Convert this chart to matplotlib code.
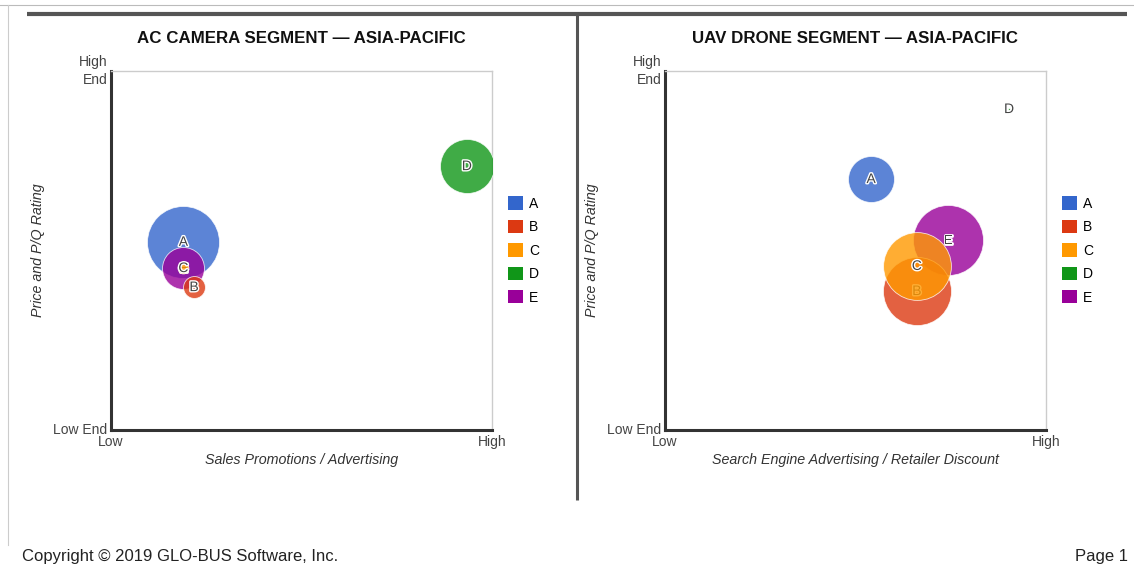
import numpy as np
import matplotlib
matplotlib.use('Agg')
import matplotlib.pyplot as plt
import matplotlib.patheffects as pe
from matplotlib.lines import Line2D
from matplotlib.patches import Patch

plt.rcParams['font.family'] = ['Liberation Sans', 'DejaVu Sans']

companies = ['A', 'B', 'C', 'D', 'E']
colors = ['#3366CC', '#DC3912', '#FF9900', '#109618', '#990099']

# AC camera segment (x = promotions/advertising, y = price and P/Q rating, share)
cam_x = [0.19, 0.218, 0.19, 0.934, 0.19]
cam_y = [0.524, 0.398, 0.451, 0.735, 0.451]
cam_share = [13.0, 1.2, 0.3, 7.3, 4.4]

# UAV drone segment (x = search engine adv / retailer discount)
uav_x = [0.541, 0.661, 0.661, 0.903, 0.743]
uav_y = [0.699, 0.387, 0.457, 0.894, 0.529]
uav_share = [5.3, 11.6, 11.5, 0.01, 12.3]

W, H = 1134, 573
fig = plt.figure(figsize=(W / 100, H / 100), dpi=100)


def px_box(x0, y_top, w, h):
    return [x0 / W, (H - y_top - h) / H, w / W, h / H]


def bubble_panel(box, xs, ys, shares, title, xlabel):
    ax = fig.add_axes(box)
    # biggest bubbles first, each label drawn right after its bubble
    order = np.argsort(shares)[::-1]
    z = 2
    for i in order:
        r = 10 * np.sqrt(shares[i]) * 0.72
        ax.scatter(xs[i], ys[i], s=(2 * r) ** 2, color=colors[i], alpha=0.8,
                   edgecolors='white', linewidths=0.6, zorder=z)
        ax.text(xs[i], ys[i], companies[i], ha='center', va='center',
                fontsize=10, color='#444444', zorder=z + 0.5,
                path_effects=[pe.withStroke(linewidth=2, foreground='white')])
        z += 1
    ax.set_xlim(0, 1)
    ax.set_ylim(0, 1)
    ax.set_xticks([])
    ax.set_yticks([])
    for s in ['top', 'right']:
        ax.spines[s].set_color('#cccccc')
        ax.spines[s].set_linewidth(1)
    for s in ['left', 'bottom']:
        ax.spines[s].set_color('#333333')
        ax.spines[s].set_linewidth(2.2)

    ax.text(-0.01, 1.025, 'High', transform=ax.transAxes, ha='right', va='center',
            fontsize=10, color='#444444')
    ax.text(-0.01, 0.975, 'End', transform=ax.transAxes, ha='right', va='center',
            fontsize=10, color='#444444')
    ax.text(-0.01, 0.0, 'Low End', transform=ax.transAxes, ha='right', va='center',
            fontsize=10, color='#444444')
    ax.text(0.0, -0.015, 'Low', transform=ax.transAxes, ha='center', va='top',
            fontsize=10, color='#444444')
    ax.text(1.0, -0.015, 'High', transform=ax.transAxes, ha='center', va='top',
            fontsize=10, color='#444444')
    ax.text(0.5, -0.065, xlabel, transform=ax.transAxes, ha='center', va='top',
            fontsize=10.3, style='italic', color='#333333')
    ax.text(-0.192, 0.5, 'Price and P/Q Rating', transform=ax.transAxes, ha='center',
            va='center', rotation=90, fontsize=10.3, style='italic', color='#333333')
    ax.text(0.5, 1.09, title, transform=ax.transAxes, ha='center', va='center',
            fontsize=12.2, fontweight='bold', color='#111111')

    handles = [Patch(facecolor=c, edgecolor='none') for c in colors]
    ax.legend(handles, companies, loc='center left', bbox_to_anchor=(1.042, 0.5),
              frameon=False, fontsize=10, handlelength=1.1, handleheight=1.1,
              handletextpad=0.4, labelspacing=0.65, borderpad=0, borderaxespad=0)
    return ax


bubble_panel(px_box(111, 71, 381, 359), cam_x, cam_y, cam_share,
             'AC CAMERA SEGMENT \u2014 ASIA-PACIFIC', 'Sales Promotions / Advertising')
bubble_panel(px_box(665, 71, 381, 359), uav_x, uav_y, uav_share,
             'UAV DRONE SEGMENT \u2014 ASIA-PACIFIC',
             'Search Engine Advertising / Retailer Discount')

# page separators
fig.add_artist(Line2D([27 / W, 1127 / W], [1 - 14 / H, 1 - 14 / H], color='#555555',
                      linewidth=3, solid_capstyle='butt'))
fig.add_artist(Line2D([577 / W, 577 / W], [1 - 14 / H, 1 - 500 / H], color='#555555',
                      linewidth=2.2, solid_capstyle='butt'))
fig.add_artist(Line2D([0, 1], [1 - 5 / H, 1 - 5 / H], color='#bbbbbb', linewidth=0.8))
fig.add_artist(Line2D([8 / W, 8 / W], [1 - 5 / H, 1 - 545 / H], color='#cccccc',
                      linewidth=0.8))

fig.text(22 / W, 1 - 557 / H, 'Copyright \u00a9 2019 GLO-BUS Software, Inc.',
         ha='left', va='center', fontsize=12, color='#222222')
fig.text(1128 / W, 1 - 557 / H, 'Page 1', ha='right', va='center', fontsize=12,
         color='#222222')

fig.savefig('out.png', dpi=100, facecolor='white')
